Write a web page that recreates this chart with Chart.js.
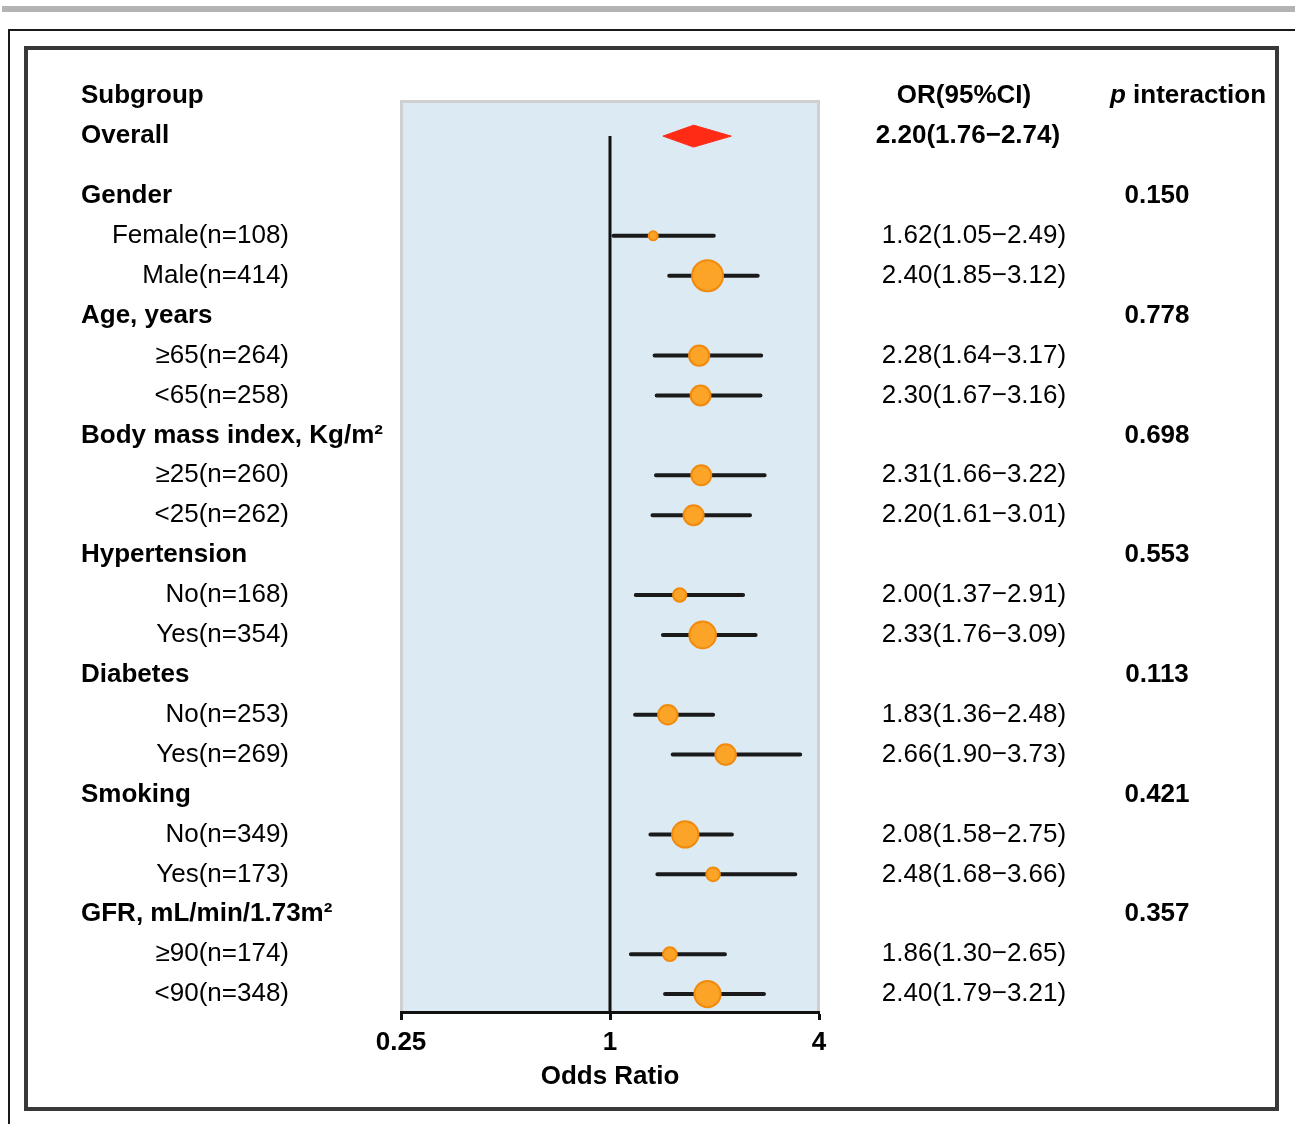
<!DOCTYPE html>
<html>
<head>
<meta charset="utf-8">
<script src="https://cdn.jsdelivr.net/npm/chart.js@4.4.1/dist/chart.umd.min.js"></script>
<style>
  body { margin: 0; background: #fff; }
  #wrap { position: relative; width: 1295px; height: 1124px; overflow: hidden; }
  .bar { position: absolute; left: 2px; top: 6px; width: 1293px; height: 6px; background: #b3b3b3; }
  .outer { position: absolute; left: 8px; top: 29px; width: 1400px; height: 1200px;
           border-left: 2px solid #1a1a1a; border-top: 2px solid #1a1a1a; }
  .inner { position: absolute; left: 24px; top: 46px; width: 1255px; height: 1065px;
           box-sizing: border-box; border: 4px solid #383838; }
  canvas { position: absolute; left: 0; top: 0; }
</style>
</head>
<body>
<div id="wrap">
  <div class="bar"></div>
  <div class="outer"></div>
  <div class="inner"></div>
  <canvas id="chart" width="1295" height="1124"></canvas>
</div>
<script>
// data
var groups = ['Gender', 'Age, years', 'Body mass index, Kg/m\u00b2', 'Hypertension', 'Diabetes', 'Smoking', 'GFR, mL/min/1.73m\u00b2'];
var pInteraction = ['0.150', '0.778', '0.698', '0.553', '0.113', '0.421', '0.357'];

var subgroups = ['Female', 'Male', '\u226565', '<65', '\u226525', '<25', 'No', 'Yes', 'No', 'Yes', 'No', 'Yes', '\u226590', '<90'];
var subgroupN = [108, 414, 264, 258, 260, 262, 168, 354, 253, 269, 349, 173, 174, 348];
var orValues = [1.62, 2.40, 2.28, 2.30, 2.31, 2.20, 2.00, 2.33, 1.83, 2.66, 2.08, 2.48, 1.86, 2.40];
var ciLower  = [1.05, 1.85, 1.64, 1.67, 1.66, 1.61, 1.37, 1.76, 1.36, 1.90, 1.58, 1.68, 1.30, 1.79];
var ciUpper  = [2.49, 3.12, 3.17, 3.16, 3.22, 3.01, 2.91, 3.09, 2.48, 3.73, 2.75, 3.66, 2.65, 3.21];

var overallOR = 2.20;
var overallLower = 1.76;
var overallUpper = 2.74;

var xTicks = [0.25, 1, 4];

// styling
var FONT = 'Liberation Sans, Arial, sans-serif';
var R_MIN = 4.5, R_MAX = 15.5;
var DIAMOND_HALF = 0.275;

// row layout: header 0, overall 1, each group = header + 2 subgroups
function groupRow(g) { return 2.5 + 3 * g; }
function subRow(i) { return groupRow(Math.floor(i / 2)) + 1 + (i % 2); }

// axis: symmetric ratio scale (1 in the middle, linear above 1)
function toU(v) { return v >= 1 ? v - 1 : 1 - 1 / v; }
function fromU(u) { return u >= 0 ? u + 1 : 1 / (1 - u); }

class RatioScale extends Chart.LinearScale {
  getPixelForValue(value) {
    if (value === null || value === undefined || isNaN(value)) return NaN;
    var a = toU(this.min), b = toU(this.max);
    return this.getPixelForDecimal((toU(value) - a) / (b - a));
  }
  getValueForPixel(pixel) {
    var a = toU(this.min), b = toU(this.max);
    return fromU(a + this.getDecimalForPixel(pixel) * (b - a));
  }
}
RatioScale.id = 'ratio';
RatioScale.defaults = Chart.LinearScale.defaults;
Chart.register(RatioScale);

var nMin = Math.min.apply(null, subgroupN), nMax = Math.max.apply(null, subgroupN);
function radiusFor(n) { return R_MIN + (n - nMin) / (nMax - nMin) * (R_MAX - R_MIN); }

var points = [];
var ciLines = [];
for (var i = 0; i < subgroups.length; i++) {
  points.push({x: orValues[i], y: subRow(i), r: radiusFor(subgroupN[i])});
  ciLines.push({x: ciLower[i], y: subRow(i)});
  ciLines.push({x: ciUpper[i], y: subRow(i)});
  ciLines.push({x: null, y: null});
}

var diamond = [
  {x: overallLower, y: 1},
  {x: overallOR, y: 1 - DIAMOND_HALF},
  {x: overallUpper, y: 1},
  {x: overallOR, y: 1 + DIAMOND_HALF},
  {x: overallLower, y: 1}
];

function fmt(v) { return v.toFixed(2); }
function orText(o, l, u) { return fmt(o) + '(' + fmt(l) + '\u2212' + fmt(u) + ')'; }

var panelPlugin = {
  id: 'panel',
  beforeDraw: function(chart) {
    var ctx = chart.ctx, a = chart.chartArea;
    ctx.save();
    ctx.fillStyle = '#dbeaf3';
    ctx.fillRect(a.left, a.top, a.right - a.left, a.bottom - a.top);
    ctx.fillStyle = '#d0d0d0';
    ctx.fillRect(a.left - 1, a.top - 1, 3, a.bottom - a.top);
    ctx.fillRect(a.right - 2, a.top - 1, 3, a.bottom - a.top);
    ctx.fillRect(a.left - 1, a.top - 1, a.right - a.left + 2, 3);
    ctx.restore();
  },
  afterDraw: function(chart) {
    var ctx = chart.ctx, y = chart.scales.y;
    var bold = 'bold 26px ' + FONT, reg = '26px ' + FONT;
    function text(s, x, row, font, align) {
      ctx.font = font;
      ctx.textAlign = align;
      ctx.fillText(s, x, y.getPixelForValue(row));
    }
    ctx.save();
    ctx.fillStyle = '#000';
    ctx.textBaseline = 'middle';

    text('Subgroup', 81, 0, bold, 'left');
    text('OR(95%CI)', 964, 0, bold, 'center');
    ctx.font = 'italic bold 26px ' + FONT;
    ctx.textAlign = 'left';
    ctx.fillText('p', 1110, y.getPixelForValue(0));
    var pw = ctx.measureText('p').width;
    text(' interaction', 1110 + pw, 0, bold, 'left');

    text('Overall', 81, 1, bold, 'left');
    text(orText(overallOR, overallLower, overallUpper), 968, 1, bold, 'center');

    for (var g = 0; g < groups.length; g++) {
      text(groups[g], 81, groupRow(g), bold, 'left');
      text(pInteraction[g], 1157, groupRow(g), bold, 'center');
    }
    for (var i = 0; i < subgroups.length; i++) {
      text(subgroups[i] + '(n=' + subgroupN[i] + ')', 289, subRow(i), reg, 'right');
      text(orText(orValues[i], ciLower[i], ciUpper[i]), 974, subRow(i), reg, 'center');
    }
    ctx.restore();
  }
};

var ctx = document.getElementById('chart').getContext('2d');
var chart = new Chart(ctx, {
  type: 'scatter',
  data: {
    datasets: [
      {
        type: 'bubble',
        data: points,
        backgroundColor: '#fba427',
        borderColor: '#f28a0c',
        borderWidth: 2,
        order: 0
      },
      {
        type: 'line',
        data: diamond,
        fill: 'shape',
        backgroundColor: '#ff2b14',
        borderColor: '#ff2b14',
        borderWidth: 1,
        pointRadius: 0,
        tension: 0,
        order: 1
      },
      {
        type: 'line',
        data: ciLines,
        borderColor: '#1a1a1a',
        borderWidth: 4,
        borderCapStyle: 'round',
        pointRadius: 0,
        spanGaps: false,
        fill: false,
        order: 2
      },
      {
        type: 'line',
        data: [{x: 1, y: 1}, {x: 1, y: 22.95}],
        borderColor: '#111',
        borderWidth: 3,
        pointRadius: 0,
        fill: false,
        order: 3
      }
    ]
  },
  options: {
    responsive: false,
    animation: false,
    events: [],
    layout: { padding: { left: 401, right: 476, top: 101, bottom: 0 } },
    plugins: {
      legend: { display: false },
      tooltip: { enabled: false }
    },
    scales: {
      x: {
        type: 'ratio',
        min: 0.25,
        max: 4,
        afterBuildTicks: function(scale) {
          scale.ticks = xTicks.map(function(v) { return {value: v}; });
        },
        afterFit: function(scale) { scale.height = 112; },
        ticks: {
          callback: function(v) { return String(v); },
          font: { family: FONT, size: 26, weight: 'bold', lineHeight: 1.2 },
          color: '#000',
          padding: 7,
          maxRotation: 0,
          autoSkip: false
        },
        grid: {
          drawOnChartArea: false,
          drawTicks: true,
          tickLength: 8,
          tickWidth: 3,
          tickColor: '#111'
        },
        border: { display: true, color: '#111', width: 3 },
        title: {
          display: true,
          text: 'Odds Ratio',
          color: '#000',
          font: { family: FONT, size: 26, weight: 'bold', lineHeight: 1.2 },
          padding: { top: 0, bottom: 32 }
        }
      },
      y: {
        type: 'linear',
        display: false,
        reverse: true,
        min: 0.12,
        max: 22.95
      }
    }
  },
  plugins: [panelPlugin]
});
</script>
</body>
</html>
